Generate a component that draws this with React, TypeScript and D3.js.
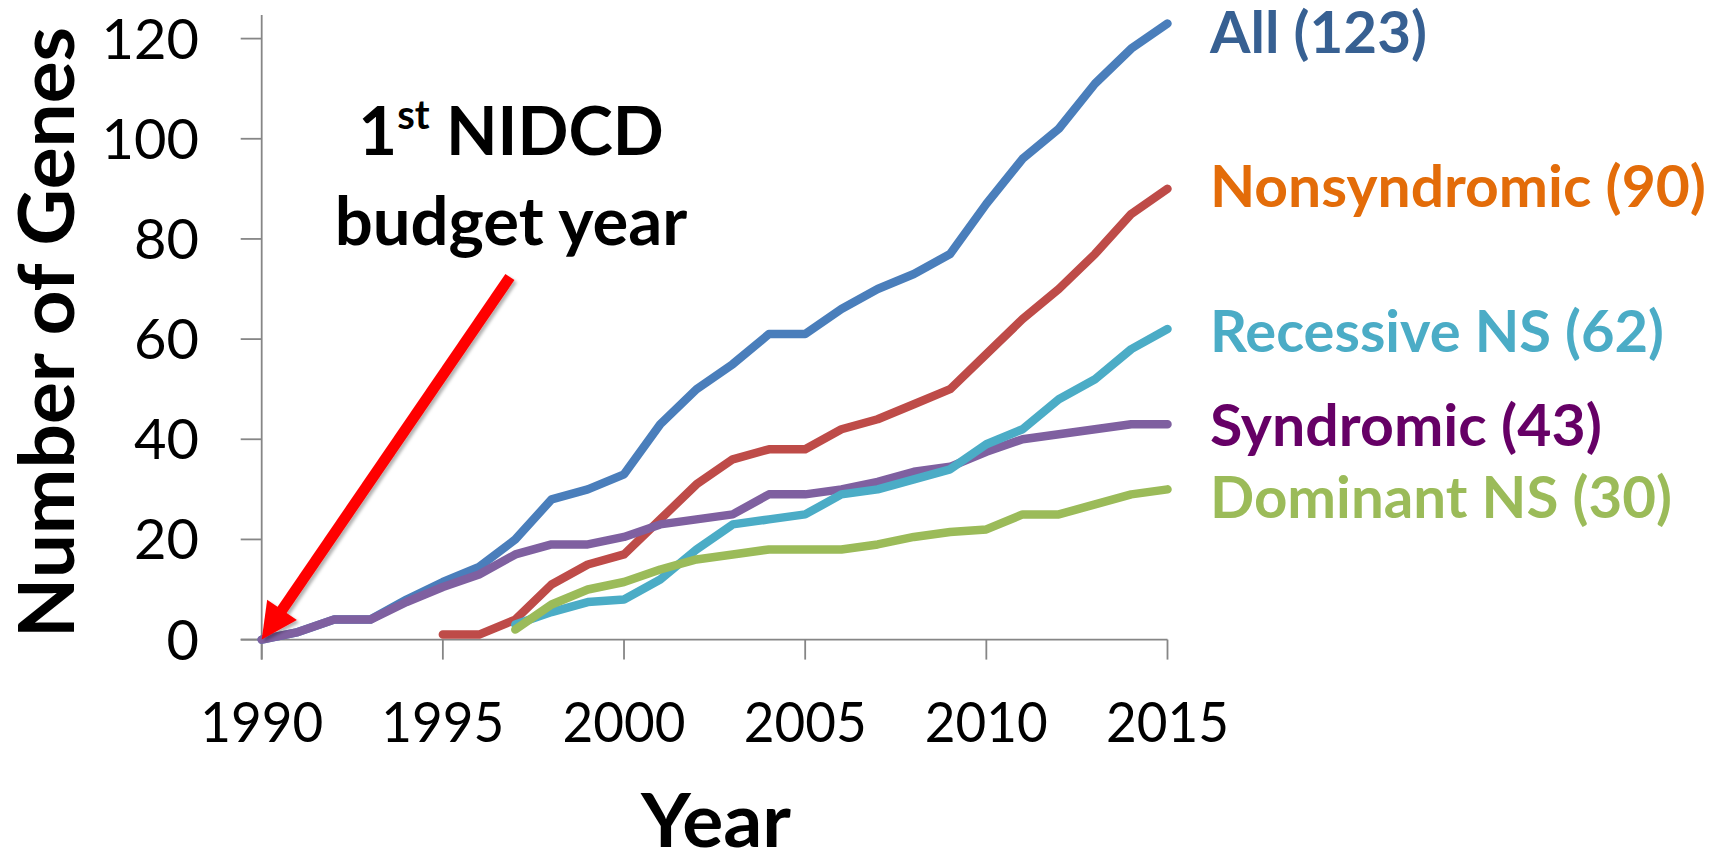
import React from "react";
import * as d3 from "d3";

// Cumulative number of identified deafness genes per year
const years: number[] = d3.range(1990, 2016);

const allGenes: (number | null)[] = [
  0, 1.5, 4, 4, 8, 11.5, 14.5, 20, 28, 30, 33, 43, 50, 55, 61, 61, 66, 70, 73, 77, 87, 96, 102, 111, 118, 123,
];
const nonsyndromic: (number | null)[] = [
  null, null, null, null, null, 1, 1, 4, 11, 15, 17, 24, 31, 36, 38, 38, 42, 44, 47, 50, 57, 64, 70, 77, 85, 90,
];
const syndromic: (number | null)[] = [
  0, 1.5, 4, 4, 7.5, 10.5, 13, 17, 19, 19, 20.5, 23, 24, 25, 29, 29, 30, 31.5, 33.5, 34.5, 37.5, 40, 41, 42, 43, 43,
];
const recessiveNS: (number | null)[] = [
  null, null, null, null, null, null, null, 3, 5.5, 7.5, 8, 12, 18, 23, 24, 25, 29, 30, 32, 34, 39, 42, 48, 52, 58, 62,
];
const dominantNS: (number | null)[] = [
  null, null, null, null, null, null, null, 2, 7, 10, 11.5, 14, 16, 17, 18, 18, 18, 19, 20.5, 21.5, 22, 25, 25, 27, 29, 30,
];

const seriesNames: string[] = ["All", "Nonsyndromic", "Syndromic", "Recessive NS", "Dominant NS"];
const seriesValues = [allGenes, nonsyndromic, syndromic, recessiveNS, dominantNS];
const lineColors: string[] = ["#4A7EBB", "#BE4B48", "#7F60A0", "#4BACC6", "#9BBB59"];

// End labels (drawn in this top-to-bottom order)
const labelTexts: string[] = ["All (123)", "Nonsyndromic (90)", "Recessive NS (62)", "Syndromic (43)", "Dominant NS (30)"];
const labelColors: string[] = ["#376092", "#E36C09", "#4BACC6", "#660066", "#9BBB59"];

const yTicks: number[] = [0, 20, 40, 60, 80, 100, 120];
const xTicks: number[] = [1990, 1995, 2000, 2005, 2010, 2015];

// Arrow from the annotation down to the first budget year
const arrowFrom: [number, number] = [1996.85, 72.4];
const arrowTo: [number, number] = [1990, 0];

const W = 1729;
const H = 851;
const FONT = "Lato, 'Open Sans', sans-serif";

export default function App() {
  const x = d3.scaleLinear().domain([1990, 2015]).range([261.7, 1167.5]);
  const y = d3.scaleLinear().domain([0, 120]).range([639.6, 38.6]);
  const axisTop = 15;

  const line = d3
    .line<number | null>()
    .defined((d) => d !== null)
    .x((_, i) => x(years[i]))
    .y((d) => y(d as number));

  // Arrow geometry
  const x1 = x(arrowFrom[0]);
  const y1 = y(arrowFrom[1]);
  const x2 = x(arrowTo[0]);
  const y2 = y(arrowTo[1]);
  const len = Math.hypot(x2 - x1, y2 - y1);
  const ux = (x2 - x1) / len;
  const uy = (y2 - y1) / len;
  const nx = -uy;
  const ny = ux;
  const headLen = 36;
  const headHalf = 18;
  const bx = x2 - ux * headLen;
  const by = y2 - uy * headLen;
  const head = `M${x2},${y2} L${bx + nx * headHalf},${by + ny * headHalf} L${bx - nx * headHalf},${by - ny * headHalf} Z`;

  const labelBaselines = [53, 207, 352, 446, 518];
  const labelWidths = [217, 496, 454, 392, 462];

  return (
    <svg
      width={W}
      height={H}
      viewBox={`0 0 ${W} ${H}`}
      style={{ position: "absolute", left: 0, top: 0, background: "#fff" }}
      fontFamily={FONT}
    >
      <defs>
        <filter id="arrowShadow" x="-20%" y="-20%" width="140%" height="140%">
          <feDropShadow dx="2.5" dy="2.5" stdDeviation="1.5" floodColor="#000" floodOpacity="0.3" />
        </filter>
      </defs>

      {/* axes */}
      <g stroke="#868686" strokeWidth={1.8} fill="none">
        <line x1={x(1990)} y1={axisTop} x2={x(1990)} y2={y(0) + 20} />
        <line x1={x(1990) - 21} y1={y(0)} x2={x(2015)} y2={y(0)} />
        {yTicks.map((t) => (
          <line key={`yt${t}`} x1={x(1990) - 21} x2={x(1990)} y1={y(t)} y2={y(t)} />
        ))}
        {xTicks.map((t) => (
          <line key={`xt${t}`} x1={x(t)} x2={x(t)} y1={y(0)} y2={y(0) + 20} />
        ))}
      </g>

      {/* tick labels */}
      <g fontSize={56} fill="#000">
        {yTicks.map((t) => (
          <text key={`yl${t}`} x={199} y={y(t) + 20} textAnchor="end">
            {t}
          </text>
        ))}
        {xTicks.map((t) => (
          <text key={`xl${t}`} x={x(t)} y={741.5} textAnchor="middle" textLength={123} lengthAdjust="spacingAndGlyphs">
            {t}
          </text>
        ))}
      </g>

      {/* axis titles */}
      <text
        x={716}
        y={846.5}
        textAnchor="middle"
        fontWeight="bold"
        fontSize={75}
        textLength={150}
        lengthAdjust="spacingAndGlyphs"
      >
        Year
      </text>
      <text
        transform={`translate(73.5,${(27 + 638) / 2}) rotate(-90)`}
        textAnchor="middle"
        fontWeight="bold"
        fontSize={76}
        textLength={611}
        lengthAdjust="spacingAndGlyphs"
      >
        Number of Genes
      </text>

      {/* series */}
      <g fill="none" strokeWidth={8.5} strokeLinejoin="round" strokeLinecap="round">
        {seriesValues.map((vals, i) => (
          <path key={seriesNames[i]} d={line(vals) || ""} stroke={lineColors[i]} />
        ))}
      </g>

      {/* annotation arrow */}
      <g filter="url(#arrowShadow)" fill="#FF0000">
        <line x1={x1} y1={y1} x2={bx + ux * 2} y2={by + uy * 2} stroke="#FF0000" strokeWidth={11} />
        <path d={head} />
      </g>

      {/* annotation text */}
      <g fontWeight="bold" fontSize={67} textAnchor="middle" fill="#000">
        <text x={511} y={155}>
          <tspan>1</tspan>
          <tspan fontSize={40} dy={-26}>st</tspan>
          <tspan dy={26}> NIDCD</tspan>
        </text>
        <text x={511} y={245}>budget year</text>
      </g>

      {/* end labels */}
      <g fontWeight="bold" fontSize={57}>
        {labelTexts.map((t, i) => (
          <text
            key={t}
            x={1210}
            y={labelBaselines[i]}
            fill={labelColors[i]}
            textLength={labelWidths[i]}
            lengthAdjust="spacingAndGlyphs"
          >
            {t}
          </text>
        ))}
      </g>
    </svg>
  );
}
